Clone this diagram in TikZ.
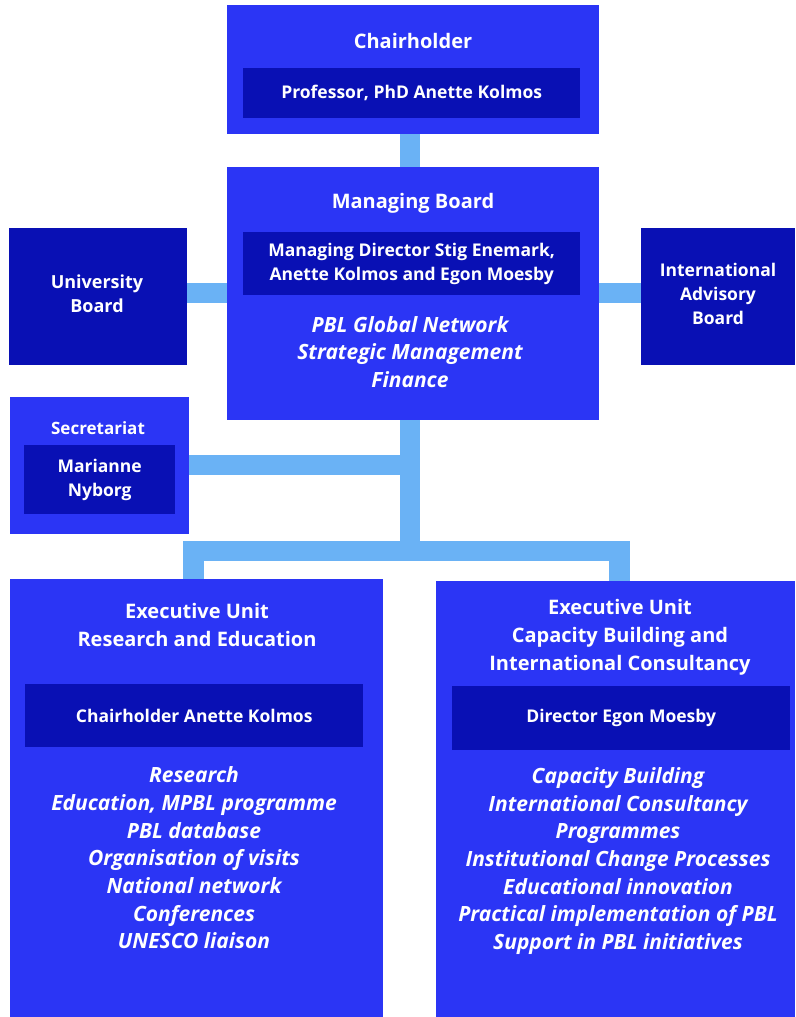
\documentclass[tikz,border=0pt]{standalone}
\usepackage{fontspec}
\setmainfont{Open Sans}
\definecolor{mainblue}{RGB}{43,53,245}
\definecolor{darkblue}{RGB}{9,16,180}
\definecolor{linkblue}{RGB}{106,178,245}
\tikzset{
  box/.style={fill=mainblue, draw=none, anchor=north west, inner sep=0pt},
  darkbox/.style={fill=darkblue, draw=none, anchor=north west, inner sep=0pt},
  conn/.style={draw=linkblue, line width=20.5pt, line join=miter},
  ttl/.style={text=white, font=\fontsize{20}{28}\selectfont\bfseries, align=center, inner sep=0pt},
  inn/.style={text=white, font=\fontsize{17.5}{24}\selectfont\bfseries, align=center, inner sep=0pt},
  itm/.style={text=white, font=\fontsize{21}{27.7}\selectfont\bfseries\itshape, align=center, inner sep=0pt}
}
\begin{document}
\begin{tikzpicture}[x=1pt,y=-1pt]
\useasboundingbox (0,0) rectangle (795,1017);
% boxes
\node[box, minimum width=372pt, minimum height=129pt] (cb) at (227,5) {};
\node[darkbox, minimum width=337pt, minimum height=50pt] (cbi) at (243,68) {};
\node[box, minimum width=372pt, minimum height=253pt] (mb) at (227,167) {};
\node[darkbox, minimum width=337pt, minimum height=63pt] (mbi) at (243,232) {};
\node[darkbox, minimum width=178pt, minimum height=137pt] (ub) at (9,228) {};
\node[darkbox, minimum width=154pt, minimum height=137pt] (iab) at (641,228) {};
\node[box, minimum width=179pt, minimum height=137pt] (sec) at (10,397) {};
\node[darkbox, minimum width=151pt, minimum height=69pt] (seci) at (24,445) {};
\node[box, minimum width=373pt, minimum height=440pt] (lb) at (10,579) {};
\node[darkbox, minimum width=338pt, minimum height=63pt] (lbi) at (25,684) {};
\node[box, minimum width=359pt, minimum height=438pt] (rb) at (436,581) {};
\node[darkbox, minimum width=338pt, minimum height=64pt] (rbi) at (452,686) {};
% connectors
\draw[conn] (410,0 |- cb.south) -- (410,0 |- mb.north);
\draw[conn] (ub.east |- 0,293) -- (mb.west |- 0,293);
\draw[conn] (mb.east |- 0,293) -- (iab.west |- 0,293);
\draw[conn] (sec.east |- 0,465) -- (400,465);
\draw[conn] (410,0 |- mb.south) -- (410,551);
\draw[conn] (193.5,0 |- lb.north) -- (193.5,551) -- (619.5,551) -- (619.5,0 |- rb.north);
% texts
\node[ttl] (t1) at (413,41) {Chairholder};
\node[inn] (t2) at (cbi.center) {Professor, PhD Anette Kolmos};
\node[ttl] (t3) at (413,203) {Managing Board};
\node[inn] (t4) at (mbi.center) {Managing Director Stig Enemark,\\Anette Kolmos and Egon Moesby};
\node[itm] (t5) at (410,352) {PBL Global Network\\Strategic Management\\Finance};
\node[ttl, font=\fontsize{18}{23.5}\selectfont\bfseries] (t6) at (97,293.5) {University\\Board};
\node[ttl, font=\fontsize{17.5}{24}\selectfont\bfseries] (t7) at (718,294) {International\\Advisory\\Board};
\node[ttl, font=\fontsize{17}{24}\selectfont\bfseries] (t8) at (98,428) {Secretariat};
\node[inn] (t9) at (seci.center) {Marianne\\Nyborg};
\node[ttl] (t10) at (197,625) {Executive Unit\\Research and Education};
\node[inn] (t11) at (lbi.center) {Chairholder Anette Kolmos};
\node[itm] (t12) at (194,858) {Research\\Education, MPBL programme\\PBL database\\Organisation of visits\\National network\\Conferences\\UNESCO liaison};
\node[ttl] (t13) at (620,637) {Executive Unit\\Capacity Building and\\International Consultancy};
\node[inn] (t14) at (rbi.center) {Director Egon Moesby};
\node[itm] (t15) at (618,861) {Capacity Building\\International Consultancy\\Programmes\\Institutional Change Processes\\Educational innovation\\Practical implementation of PBL\\Support in PBL initiatives};
\end{tikzpicture}
\end{document}
